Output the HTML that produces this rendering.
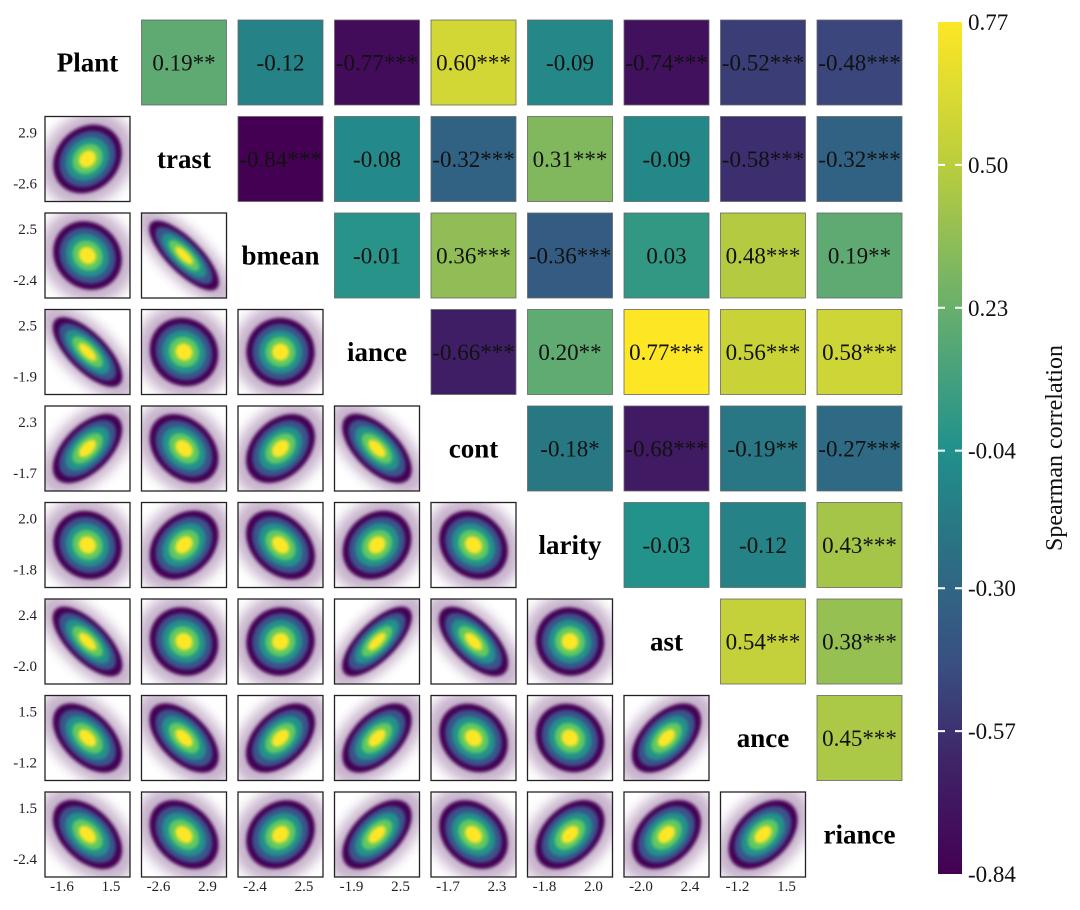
<!DOCTYPE html>
<html><head><meta charset="utf-8">
<style>
html,body{margin:0;padding:0;background:#fff;}
svg{display:block;font-family:"Liberation Serif",serif;}
</style></head>
<body>
<svg id="chart" width="1080" height="910" viewBox="0 0 1080 910">
<defs>
<filter id="blurS" x="-50%" y="-50%" width="200%" height="200%"><feGaussianBlur stdDeviation="1.6"/></filter>
<filter id="blurL" x="-50%" y="-50%" width="200%" height="200%"><feGaussianBlur stdDeviation="6"/></filter>
<linearGradient id="cbgrad" x1="0" y1="1" x2="0" y2="0"></linearGradient>
</defs>
</svg>
<script>
const varNames = ["Plant","trast","bmean","iance","cont","larity","ast","ance","riance"];
const corrRow0 = [0.19,-0.12,-0.77,0.60,-0.09,-0.74,-0.52,-0.48];
const corrRow1 = [-0.84,-0.08,-0.32,0.31,-0.09,-0.58,-0.32];
const corrRow2 = [-0.01,0.36,-0.36,0.03,0.48,0.19];
const corrRow3 = [-0.66,0.20,0.77,0.56,0.58];
const corrRow4 = [-0.18,-0.68,-0.19,-0.27];
const corrRow5 = [-0.03,-0.12,0.43];
const corrRow6 = [0.54,0.38];
const corrRow7 = [0.45];
const starRow0 = ["**","","***","***","","***","***","***"];
const starRow1 = ["***","","***","***","","***","***"];
const starRow2 = ["","***","***","","***","**"];
const starRow3 = ["***","**","***","***","***"];
const starRow4 = ["*","***","**","***"];
const starRow5 = ["","","***"];
const starRow6 = ["***","***"];
const starRow7 = ["***"];
const yTickHigh = ["", "2.9","2.5","2.5","2.3","2.0","2.4","1.5","1.5"];
const yTickLow  = ["", "-2.6","-2.4","-1.9","-1.7","-1.8","-2.0","-1.2","-2.4"];
const xTickLow  = ["-1.6","-2.6","-2.4","-1.9","-1.7","-1.8","-2.0","-1.2"];
const xTickHigh = ["1.5","2.9","2.5","2.5","2.3","2.0","2.4","1.5"];
const cbMin = -0.84, cbMax = 0.77;
const cbTicks = [0.77,0.50,0.23,-0.04,-0.30,-0.57,-0.84];

const corrRows=[corrRow0,corrRow1,corrRow2,corrRow3,corrRow4,corrRow5,corrRow6,corrRow7];
const starRows=[starRow0,starRow1,starRow2,starRow3,starRow4,starRow5,starRow6,starRow7];
const NS="http://www.w3.org/2000/svg";
const svg=document.getElementById('chart');
const defs=svg.querySelector('defs');
function mk(tag,attrs,parent){const e=document.createElementNS(NS,tag);for(const k in attrs)e.setAttribute(k,attrs[k]);(parent||svg).appendChild(e);return e;}
const X0=45, Y0=20, STEP=96.5, SZ=85;
const cellX=j=>X0+j*STEP, cellY=i=>Y0+i*STEP;
const PAL_T=[0,0.12,0.25,0.41,0.5,0.65,0.83,1];
const PAL_C=[[68,1,84],[63,32,102],[57,80,130],[40,120,132],[33,145,140],[98,172,112],[185,205,62],[253,231,37]];
function pal(t){t=Math.max(0,Math.min(1,t));let i=0;while(i<PAL_T.length-2&&t>PAL_T[i+1])i++;const f=(t-PAL_T[i])/(PAL_T[i+1]-PAL_T[i]);const c=PAL_C[i].map((v,k)=>Math.round(v+(PAL_C[i+1][k]-v)*f));return `rgb(${c[0]},${c[1]},${c[2]})`;}
const colorScale=v=>pal((v-cbMin)/(cbMax-cbMin));
function getCorr(i,j){return corrRows[i][j-i-1];}

for(let i=0;i<8;i++)for(let j=i+1;j<9;j++){
  const v=getCorr(i,j), s=starRows[i][j-i-1];
  const g=mk('g',{});
  
  
  mk('rect',{x:cellX(j),y:cellY(i),width:SZ,height:SZ,fill:colorScale(v),stroke:'#666','stroke-width':0.8},g);
  const t=mk('text',{x:cellX(j)+SZ/2,y:cellY(i)+SZ/2+8,'text-anchor':'middle','font-size':23,fill:'#111'},g);
  t.textContent=v.toFixed(2)+s;
}
for(let i=0;i<9;i++){
  const t=mk('text',{x:cellX(i)+SZ/2,y:cellY(i)+SZ/2+9,'text-anchor':'middle','font-size':27,'font-weight':'bold',fill:'#000'});
  
  
  t.textContent=varNames[i];
}
const levels=[[1.3,'#440154',0.3,'blurL'],[0.95,'#440154',1,'blurS'],[0.78,'#3b528b',1,'blurS'],[0.6,'#21918c',1,'blurS'],[0.42,'#5ec962',1,'blurS'],[0.24,'#fde725',1,'blurS']];
for(let i=1;i<9;i++)for(let j=0;j<i;j++){
  const r=getCorr(j,i);
  const x=cellX(j),y=cellY(i);
  const g=mk('g',{});
  
  
  const cid='clip'+i+'_'+j;
  const cp=mk('clipPath',{id:cid},defs);mk('rect',{x:x,y:y,width:SZ,height:SZ},cp);
  mk('rect',{x:x,y:y,width:SZ,height:SZ,fill:'#fff'},g);
  const inner=mk('g',{'clip-path':`url(#${cid})`},g);
  const cx=x+SZ/2,cy=y+SZ/2;
  const a=36*Math.sqrt(1+Math.abs(r)), b=36*Math.sqrt(1-Math.abs(r)*0.9);
  const ang=r>=0?-45:45;
  levels.forEach(([k,col,op,f])=>{
    mk('ellipse',{cx:cx,cy:cy,rx:a*k,ry:b*k,fill:col,opacity:op,filter:`url(#${f})`,transform:`rotate(${ang} ${cx} ${cy})`},inner);
  });
  mk('rect',{x:x,y:y,width:SZ,height:SZ,fill:'none',stroke:'#222','stroke-width':1.3},g);
}
for(let i=1;i<9;i++){
  const t1=mk('text',{x:37,y:cellY(i)+21,'text-anchor':'end','font-size':15,fill:'#222'});
  t1.textContent=yTickHigh[i];
  const t2=mk('text',{x:37,y:cellY(i)+72,'text-anchor':'end','font-size':15,fill:'#222'});
  t2.textContent=yTickLow[i];
}
for(let j=0;j<8;j++){
  const t1=mk('text',{x:cellX(j)+17,y:891,'text-anchor':'middle','font-size':15,fill:'#222'});
  t1.textContent=xTickLow[j];
  const t2=mk('text',{x:cellX(j)+66,y:891,'text-anchor':'middle','font-size':15,fill:'#222'});
  t2.textContent=xTickHigh[j];
}
const CBX=938,CBW=24,CBT=22,CBB=874;
const cbY=v=>CBT+(cbMax-v)/(cbMax-cbMin)*(CBB-CBT);
const grad=document.getElementById('cbgrad');
for(let k=0;k<=40;k++){mk('stop',{offset:(k/40),'stop-color':pal(k/40)},grad);}
const cb=mk('rect',{x:CBX,y:CBT,width:CBW,height:CBB-CBT,fill:'url(#cbgrad)'});

cbTicks.forEach((v,k)=>{
  const yy=cbY(v);
  if(k>0&&k<cbTicks.length-1){
    mk('line',{x1:CBX,x2:CBX+7,y1:yy,y2:yy,stroke:'#fff','stroke-width':2});
    mk('line',{x1:CBX+CBW-7,x2:CBX+CBW,y1:yy,y2:yy,stroke:'#fff','stroke-width':2});
  }
  const t=mk('text',{x:968,y:yy+8,'font-size':23,fill:'#111'});
  
  t.textContent=v.toFixed(2);
});
const ttl=mk('text',{x:1062,y:448,'text-anchor':'middle','font-size':24,fill:'#111',transform:'rotate(-90 1062 448)'});

ttl.textContent='Spearman correlation';
</script>
</body></html>
